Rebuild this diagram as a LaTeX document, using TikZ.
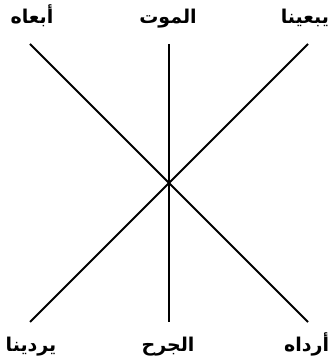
\documentclass[tikz,border=0pt]{standalone}
\usepackage{fontspec}
\newfontfamily\arabicfont[Script=Arabic]{DejaVu Sans}
\TeXXeTstate=1
\begin{document}
\begin{tikzpicture}[
    x=1pt, y=1pt,
    line width=1.9pt,
    word/.style={
        font=\arabicfont\bfseries\fontsize{19}{21}\selectfont,
        inner sep=0pt,
        anchor=base
    }
]
\useasboundingbox (0,0) rectangle (331,362);

% line ends
\coordinate (tl) at (30,318);
\coordinate (tm) at (169,318);
\coordinate (tr) at (308,318);
\coordinate (bl) at (30,40);
\coordinate (bm) at (169,40);
\coordinate (br) at (308,40);

\draw (tl) -- (br);
\draw (tr) -- (bl);
\draw (tm) -- (bm);

% labels
\node[word] (ibaah) at (32,338) {\beginR أبعاه\endR};
\node[word] (mawt) at (168,338) {\beginR الموت\endR};
\node[word, anchor=base east] (yabina) at (330,338) {\beginR يبعينا\endR};
\node[word] (yurdina) at (31,10) {\beginR يردينا\endR};
\node[word] (jurh) at (168,10) {\beginR الجرح\endR};
\node[word, anchor=base east] (ardah) at (330,10) {\beginR أرداه\endR};
\end{tikzpicture}
\end{document}
